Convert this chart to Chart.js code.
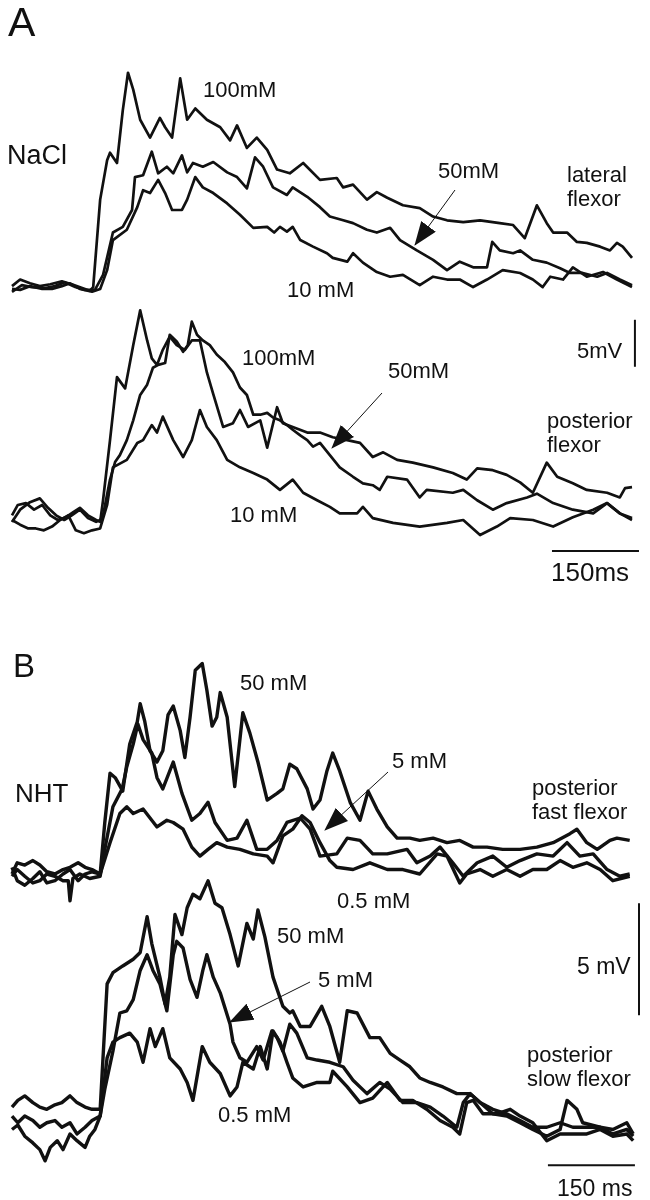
<!DOCTYPE html>
<html>
<head>
<meta charset="utf-8">
<script src="https://cdn.jsdelivr.net/npm/chart.js@4"></script>
<style>
  body { margin: 0; background: #fff; }
  #fig { position: relative; width: 650px; height: 1200px; overflow: hidden;
         font-family: "Liberation Sans", Arial, sans-serif; color: #111; }
  canvas { position: absolute; left: 0; top: 0; }
  svg { position: absolute; left: 0; top: 0; }
  .lbl { position: absolute; white-space: nowrap; line-height: 1; font-size: 22px; }
  .two { line-height: 24px; }
</style>
</head>
<body>
<div id="fig">
  <canvas id="aTop" width="650" height="1200"></canvas>
  <canvas id="aBot" width="650" height="1200"></canvas>
  <canvas id="bTop" width="650" height="1200"></canvas>
  <canvas id="bBot" width="650" height="1200"></canvas>

  <svg width="650" height="1200">
    <defs>
      <marker id="head" viewBox="0 0 24 18" refX="23" refY="9" markerWidth="24" markerHeight="18"
              markerUnits="userSpaceOnUse" orient="auto">
        <path d="M0,0 L24,9 L0,18 Z" fill="#111"/>
      </marker>
    </defs>
    <line x1="455" y1="190" x2="415" y2="245" stroke="#111" stroke-width="1" marker-end="url(#head)"/>
    <line x1="382" y1="393" x2="332" y2="448" stroke="#111" stroke-width="1" marker-end="url(#head)"/>
    <line x1="388" y1="772" x2="325" y2="830" stroke="#111" stroke-width="1" marker-end="url(#head)"/>
    <line x1="310" y1="982" x2="230" y2="1022" stroke="#111" stroke-width="1" marker-end="url(#head)"/>
  </svg>

  <div class="lbl" style="left:8px;top:2px;font-size:41px;">A</div>
  <div class="lbl" style="left:7px;top:142px;font-size:27px;">NaCl</div>
  <div class="lbl" style="left:203px;top:79px;">100mM</div>
  <div class="lbl" style="left:438px;top:160px;">50mM</div>
  <div class="lbl two" style="left:567px;top:163px;">lateral<br>flexor</div>
  <div class="lbl" style="left:287px;top:279px;">10 mM</div>
  <div class="lbl" style="left:577px;top:340px;">5mV</div>
  <div class="lbl" style="left:242px;top:347px;">100mM</div>
  <div class="lbl" style="left:388px;top:360px;">50mM</div>
  <div class="lbl two" style="left:547px;top:409px;">posterior<br>flexor</div>
  <div class="lbl" style="left:230px;top:504px;">10 mM</div>
  <div class="lbl" style="left:551px;top:559px;font-size:26px;">150ms</div>

  <div class="lbl" style="left:13px;top:649px;font-size:33px;">B</div>
  <div class="lbl" style="left:240px;top:672px;">50 mM</div>
  <div class="lbl" style="left:15px;top:780px;font-size:26px;">NHT</div>
  <div class="lbl" style="left:392px;top:750px;">5 mM</div>
  <div class="lbl two" style="left:532px;top:776px;">posterior<br>fast flexor</div>
  <div class="lbl" style="left:337px;top:890px;">0.5 mM</div>
  <div class="lbl" style="left:577px;top:955px;font-size:23px;">5 mV</div>
  <div class="lbl" style="left:277px;top:925px;">50 mM</div>
  <div class="lbl" style="left:318px;top:969px;">5 mM</div>
  <div class="lbl" style="left:218px;top:1104px;">0.5 mM</div>
  <div class="lbl two" style="left:527px;top:1043px;">posterior<br>slow flexor</div>
  <div class="lbl" style="left:557px;top:1177px;font-size:23px;">150 ms</div>
</div>

<script>
// traces: [time ms, potential mV]

// ---- A, NaCl, lateral flexor ----
const naclLat100 = [[0,0.2],[14,0.9],[31,0.5],[48,0.2],[66,0.4],[86,0.7],[103,0.4],[121,0],[134,-0.3],[140,0.1],[152,9.4],[164,13.6],[169,14.4],[181,13.3],[191,18.9],[200,22.9],[209,21.1],[221,17.9],[238,16.0],[255,18.1],[264,17.1],[276,16.0],[290,22.3],[302,17.9],[316,19.1],[336,17.9],[359,17.1],[376,15.7],[388,17.3],[405,14.9],[422,16.0],[440,14.7],[457,12.6],[479,12.2],[502,13.3],[531,11.5],[560,11.7],[571,10.7],[588,11.0],[612,9.4],[629,10.2],[647,9.6],[674,8.8],[703,8.5],[726,7.6],[750,7.2],[778,7.0],[807,7.2],[841,6.9],[864,6.7],[884,5.3],[905,8.8],[922,6.9],[933,5.9],[957,5.9],[974,4.9],[991,4.8],[1014,4.4],[1031,4.0],[1043,4.8],[1053,4.4],[1069,3.2]];
const naclLat50 = [[0,-0.4],[17,0.3],[34,0.1],[57,0],[74,0.2],[91,0.6],[109,0.1],[126,-0.2],[143,-0.2],[157,1.4],[174,5.9],[191,6.5],[207,8.3],[212,11.8],[226,12.0],[241,14.5],[252,12.2],[267,12.9],[278,12.2],[293,14.1],[302,12.3],[312,13.3],[329,12.9],[347,13.4],[371,12.3],[388,11.8],[405,10.6],[419,13.9],[433,12.9],[450,10.7],[474,9.9],[484,10.7],[509,9.7],[531,8.6],[548,7.6],[571,7.2],[588,6.9],[612,6.2],[629,5.9],[652,6.4],[669,5.1],[698,4.0],[726,3.0],[750,1.9],[772,2.8],[795,2.2],[819,2.2],[828,4.9],[841,4.0],[864,3.7],[876,4.0],[898,3.0],[922,2.7],[945,2.1],[962,1.6],[984,1.6],[1009,1.2],[1026,1.6],[1048,0.9],[1069,0.3]];
const naclLat10 = [[0,-0.1],[14,-0.2],[31,0.2],[52,-0.1],[69,-0.1],[86,0.2],[100,0.5],[117,-0.1],[138,-0.4],[152,-0.1],[164,1.9],[174,5.1],[198,6.2],[216,8.6],[226,10.4],[238,10.1],[252,11.5],[264,10.1],[276,8.3],[293,8.3],[302,9.4],[316,11.8],[329,10.7],[347,10.1],[371,9.0],[393,7.8],[416,6.4],[440,6.5],[452,5.9],[462,6.5],[474,6.0],[484,6.5],[497,5.1],[519,4.4],[543,3.7],[553,3.2],[578,2.8],[588,3.7],[605,2.7],[629,1.7],[652,1.2],[674,1.4],[703,0.3],[726,1.2],[750,0.9],[772,0.9],[795,0.1],[819,0.9],[846,1.9],[876,1.6],[898,0.9],[915,0.1],[928,1.2],[950,0.9],[967,2.2],[991,1.2],[1019,1.7],[1043,0.9],[1069,0.1]];

// ---- A, NaCl, posterior flexor ----
const naclPost100 = [[0,0.5],[10,1.6],[24,1.8],[38,1.1],[52,1.6],[66,0.5],[79,0],[93,0.3],[107,0.9],[117,1.3],[131,0.5],[145,0],[152,-0.2],[157,2.1],[169,8.5],[181,15.2],[195,14.0],[209,18.6],[221,22.3],[233,19.1],[241,17.2],[250,16.5],[260,18.1],[272,19.5],[284,18.6],[298,18.1],[310,19.1],[324,19.1],[336,15.7],[347,13.4],[364,9.9],[381,10.3],[393,11.7],[407,9.9],[428,10.6],[440,7.7],[457,12.0],[467,10.3],[484,9.9],[509,9.3],[531,9.3],[553,8.8],[578,8.5],[600,8.2],[622,6.7],[640,7.2],[664,6.4],[691,6.1],[726,5.6],[760,5.0],[784,4.3],[802,5.5],[829,5.3],[853,4.8],[876,4.0],[898,2.9],[922,6.1],[940,4.6],[967,3.9],[991,3.2],[1026,2.9],[1048,2.4],[1057,3.4],[1069,3.5]];
const naclPost50 = [[0,-0.2],[14,1.1],[31,1.9],[48,2.3],[62,1.3],[76,0.5],[90,0],[103,0.5],[117,1.1],[131,0.2],[145,-0.2],[152,0],[157,0.5],[169,4.3],[178,6.2],[186,6.9],[198,8.5],[209,10.6],[221,13.3],[233,14.4],[243,16.2],[252,16.5],[264,16.7],[272,19.7],[284,19.0],[295,17.9],[303,18.6],[310,21.1],[319,19.7],[329,19.1],[341,18.6],[353,17.6],[367,16.8],[381,15.7],[393,14.1],[405,13.3],[416,11.2],[428,11.2],[440,11.4],[450,10.9],[462,10.6],[474,10.1],[484,9.6],[497,9.0],[509,8.5],[519,7.8],[531,8.2],[548,6.9],[565,5.6],[588,4.6],[605,3.9],[622,3.7],[634,3.2],[647,4.6],[681,4.3],[703,2.4],[715,3.2],[760,2.9],[778,3.2],[802,2.1],[829,1.1],[853,1.8],[888,2.4],[905,2.8],[933,1.8],[967,1.1],[1002,0.7],[1026,1.8],[1048,0.7],[1069,0.2]];
const naclPost10 = [[0,0],[14,-0.5],[28,-0.9],[41,-0.9],[55,-1.1],[69,-0.7],[83,0],[97,0.5],[110,-1.1],[124,-1.4],[138,-1.1],[152,-0.9],[164,1.6],[174,5.6],[198,6.4],[216,8.2],[226,8.5],[241,10.1],[250,9.3],[260,11.0],[278,8.5],[295,6.7],[310,8.5],[324,11.7],[336,9.9],[353,8.5],[371,6.4],[393,5.6],[416,5.0],[440,4.3],[462,3.2],[484,4.3],[502,2.9],[526,2.1],[548,1.4],[565,0.7],[595,0.7],[605,1.4],[622,0.2],[657,-0.3],[703,-0.7],[750,-0.3],[778,0],[807,-1.6],[836,-0.7],[859,0.2],[898,0],[933,-0.7],[967,0.3],[1002,1.1],[1026,1.8],[1048,0.7],[1069,0]];

// ---- B, NHT, posterior fast flexor ----
const nhtFast50 = [[0,0],[9,0.5],[22,0.4],[36,0.6],[48,0.4],[60,0.1],[74,0],[88,0.2],[100,0.3],[114,0.5],[126,0.3],[138,0.2],[152,0],[160,2.3],[169,4.5],[178,4.3],[191,3.7],[203,5.8],[216,6.8],[221,7.6],[229,6.8],[238,5.5],[250,5.0],[260,5.5],[269,7.1],[278,7.5],[290,6.4],[298,5.2],[307,7.0],[316,9.1],[328,9.4],[336,8.2],[345,6.6],[353,7.0],[359,8.1],[371,7.0],[384,3.9],[398,7.2],[410,6.3],[424,5.0],[440,3.3],[457,3.6],[467,3.8],[479,4.9],[491,4.7],[509,3.8],[519,2.9],[531,3.3],[543,4.6],[553,5.4],[565,4.6],[583,3.2],[600,2.4],[614,3.7],[629,2.9],[647,2.1],[664,1.6],[686,1.6],[703,1.5],[726,1.6],[750,1.4],[772,1.5],[795,1.2],[819,1.2],[846,1.1],[876,1.1],[905,1.2],[933,1.4],[962,1.8],[974,2.0],[991,1.4],[1009,1.1],[1031,1.5],[1043,1.6],[1065,1.5]];
const nhtFast5 = [[0,-0.1],[9,0.2],[22,-0.1],[36,-0.4],[48,-0.3],[60,0],[74,-0.1],[88,-0.3],[97,-0.3],[100,-1.2],[105,-0.2],[117,0],[134,-0.2],[152,-0.1],[160,1.1],[174,3.0],[190,3.8],[198,4.8],[209,5.8],[217,6.7],[226,6.0],[241,5.4],[250,4.3],[260,3.8],[278,5.0],[293,3.6],[310,2.4],[324,2.7],[338,3.2],[350,2.3],[371,1.5],[388,1.6],[405,2.4],[422,1.1],[440,1.1],[457,1.5],[474,2.3],[497,2.5],[514,2.0],[531,0.8],[560,0.9],[578,1.6],[600,1.5],[622,0.9],[647,0.9],[681,1.1],[698,0.5],[721,0.8],[738,1.2],[760,0.5],[778,-0.1],[802,0.5],[829,0.8],[853,0.3],[876,0.6],[905,0.9],[933,0.8],[957,1.4],[979,0.8],[1002,0.9],[1026,0.2],[1048,-0.1],[1065,0]];
const nhtFast05 = [[0,0.3],[9,-0.3],[22,-0.5],[36,-0.2],[48,0.1],[60,-0.4],[74,-0.3],[88,0],[100,0.2],[114,-0.3],[126,0],[138,0.1],[152,0],[169,1.4],[186,2.7],[198,3.0],[209,2.7],[226,2.9],[238,2.5],[250,2.1],[267,2.4],[278,2.3],[295,2.0],[310,1.2],[324,0.8],[338,1.1],[353,1.4],[371,1.2],[393,1.1],[416,0.9],[440,0.8],[450,0.5],[467,1.7],[484,2.0],[500,2.6],[514,2.3],[531,1.4],[548,0.6],[560,0.3],[588,0.2],[617,0.5],[647,0.2],[674,0.2],[703,0],[733,0.9],[750,0.8],[772,-0.4],[784,0],[807,0.2],[829,-0.1],[853,0.2],[876,-0.1],[898,0.2],[922,0.2],[945,0.6],[967,0.3],[991,0.5],[1014,0.2],[1036,-0.3],[1065,-0.1]];

// ---- B, NHT, posterior slow flexor ----
const nhtSlow50 = [[0,0.8],[10,1.1],[22,1.3],[36,1.0],[48,0.8],[60,0.7],[74,0.9],[86,1.0],[100,1.3],[112,1.0],[126,0.8],[138,0.7],[152,0.7],[164,6.3],[174,6.8],[191,7.1],[209,7.4],[221,7.7],[233,9.3],[241,8.1],[255,6.6],[264,5.4],[272,6.6],[281,9.4],[293,8.5],[302,9.7],[312,10.3],[324,10.1],[338,10.9],[350,9.9],[362,9.7],[376,8.5],[390,7.1],[405,9.0],[416,8.3],[424,9.6],[436,8.4],[450,6.6],[467,5.3],[479,5.0],[484,5.1],[497,4.4],[514,4.4],[534,5.3],[548,4.4],[565,2.8],[578,5.1],[595,5.0],[617,3.9],[634,3.9],[652,3.2],[669,2.9],[686,2.6],[703,2.1],[721,1.9],[743,1.7],[767,1.4],[790,1.4],[807,1.0],[829,0.7],[853,0.5],[876,0.2],[898,-0.1],[922,-0.1],[945,0.1],[967,-0.1],[991,-0.1],[1014,-0.1],[1036,-0.2],[1060,0.1],[1071,-0.4]];
const nhtSlow5 = [[0,0.4],[10,0.1],[22,0.4],[36,0.2],[48,-0.1],[60,0.1],[74,0.2],[86,-0.1],[100,0.1],[112,-0.4],[126,-0.1],[138,0.2],[152,0.4],[160,1.6],[174,3.3],[186,5.0],[198,5.1],[209,5.6],[221,6.9],[233,7.6],[243,6.9],[255,6.3],[267,5.1],[278,7.6],[284,8.2],[295,7.9],[307,6.5],[319,5.7],[329,6.9],[336,7.6],[347,6.6],[359,5.9],[376,4.5],[381,3.7],[393,3.0],[405,2.8],[422,3.5],[433,2.9],[448,4.2],[457,3.9],[467,3.3],[479,4.5],[491,4.1],[509,3.0],[526,2.9],[548,2.8],[571,2.6],[588,2.0],[612,1.4],[634,1.9],[652,1.6],[674,1.0],[698,1.0],[721,0.8],[743,0.4],[767,-0.1],[778,1.0],[790,1.4],[807,1.0],[829,0.5],[853,0.4],[876,0.1],[898,-0.2],[922,-0.5],[945,-0.2],[957,1.1],[974,0.7],[984,0.1],[1014,-0.1],[1036,-0.4],[1060,-0.2],[1071,-0.5]];
const nhtSlow05 = [[0,-0.2],[10,0],[22,-0.5],[36,-0.8],[48,-1.1],[57,-1.6],[66,-1.0],[78,-0.7],[88,-1.1],[100,-0.4],[112,-0.7],[126,-1.0],[134,-0.5],[143,-0.2],[152,0.4],[164,3.0],[174,3.7],[186,3.9],[203,4.1],[216,3.7],[226,2.8],[238,4.3],[247,3.5],[260,4.3],[272,3.0],[290,2.5],[302,1.9],[312,1.1],[328,3.5],[341,2.8],[359,2.3],[376,1.3],[388,1.7],[398,2.8],[416,2.5],[428,3.5],[440,2.5],[450,4.2],[462,3.7],[474,2.8],[484,2.1],[502,1.7],[526,1.9],[548,1.9],[553,2.4],[578,1.7],[600,1.0],[622,1.2],[647,1.9],[669,1.1],[691,1.1],[715,0.7],[738,0.2],[760,-0.1],[772,-0.4],[784,1.0],[795,1.1],[812,0.5],[836,0.5],[859,0.7],[876,0.4],[898,0.1],[922,-0.7],[945,-0.4],[967,-0.4],[991,-0.4],[1014,-0.2],[1036,-0.5],[1060,-0.4],[1071,-0.7]];

// ---- drawing ----
const MS_PER_PX = 150 / 87;

const scaleBars = {
  id: "scaleBars",
  afterDatasetsDraw(chart, args, opts) {
    if (!opts.bars) return;
    const { ctx, scales: { x, y } } = chart;
    ctx.save();
    ctx.strokeStyle = "#111";
    ctx.lineWidth = 2;
    opts.bars.forEach(b => {
      ctx.beginPath();
      ctx.moveTo(x.getPixelForValue(b.t0), y.getPixelForValue(b.v0));
      ctx.lineTo(x.getPixelForValue(b.t1), y.getPixelForValue(b.v1));
      ctx.stroke();
    });
    ctx.restore();
  }
};

// baseY = where 0 mV sits on the page, pxPerMv from the 5 mV bar
function makePanel(id, traces, baseY, pxPerMv, lineW, bars) {
  new Chart(document.getElementById(id), {
    type: "line",
    data: {
      datasets: traces.map(tr => ({
        data: tr.map(p => ({ x: p[0], y: p[1] })),
        borderColor: "#111",
        borderWidth: lineW,
        borderJoinStyle: "round",
        pointRadius: 0,
        tension: 0,
        fill: false
      }))
    },
    options: {
      responsive: false,
      animation: false,
      events: [],
      layout: { padding: 0 },
      plugins: {
        legend: { display: false },
        tooltip: { enabled: false },
        scaleBars: { bars: bars }
      },
      scales: {
        x: { type: "linear", display: false, min: -12 * MS_PER_PX, max: (650 - 12) * MS_PER_PX },
        y: { display: false, min: -(1200 - baseY) / pxPerMv, max: baseY / pxPerMv }
      }
    },
    plugins: [scaleBars]
  });
}

makePanel("aTop", [naclLat100, naclLat50, naclLat10], 288, 9.4, 2.7, null);
makePanel("aBot", [naclPost100, naclPost50, naclPost10], 520, 9.4, 2.7, [
  { t0: 931, v0: -3.3, t1: 1081, v1: -3.3 },
  { t0: 1074, v0: 16.3, t1: 1074, v1: 21.3 }
]);
makePanel("bTop", [nhtFast50, nhtFast5, nhtFast05], 874, 22.4, 3.4, null);
makePanel("bBot", [nhtSlow50, nhtSlow5, nhtSlow05], 1125, 22.4, 3.4, [
  { t0: 924, v0: -1.8, t1: 1074, v1: -1.8 },
  { t0: 1081, v0: 4.9, t1: 1081, v1: 9.9 }
]);
</script>
</body>
</html>
